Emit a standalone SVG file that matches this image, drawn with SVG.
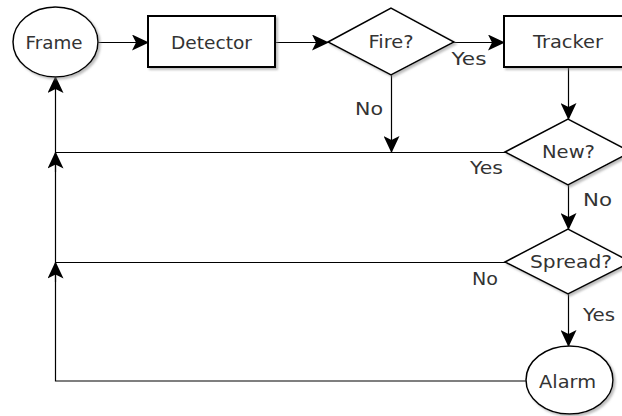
<svg xmlns="http://www.w3.org/2000/svg" width="622" height="416" viewBox="0 0 622 416">
  <style>
    .shape { fill: #ffffff; stroke: #000000; stroke-width: 1.5; filter: url(#shadow); }
    .box { stroke-width: 2; }
    .label { font-family: "DejaVu Sans", "Liberation Sans", sans-serif; font-size: 18px; fill: #333333; text-anchor: middle; }
    .edge { fill: none; stroke: #000000; stroke-width: 1.2; }
    .arrow { marker-end: url(#head); }
  </style>
  <defs>
    <filter id="shadow" x="-20%" y="-20%" width="140%" height="140%">
      <feDropShadow dx="2" dy="2" stdDeviation="0.8" flood-color="#888888" flood-opacity="0.55"/>
    </filter>
    <marker id="head" viewBox="0 0 17 16" refX="16" refY="8" markerWidth="17" markerHeight="16" markerUnits="userSpaceOnUse" orient="auto">
      <path d="M0,0 L17,8 L0,16 L4,8 Z" fill="#000000"/>
    </marker>
  </defs>

  <!-- connectors -->
  <g id="connectors">
    <path class="edge arrow" d="M98,42.5 H148"/>
    <path class="edge arrow" d="M276,42.5 H328"/>
    <path class="edge arrow" d="M454,42.5 H504"/>
    <path class="edge arrow" d="M391.5,75 V152"/>
    <path class="edge arrow" d="M568.5,67 V119"/>
    <path class="edge arrow" d="M568.5,185 V229"/>
    <path class="edge arrow" d="M568.5,294 V346"/>
    <!-- New? yes branch back to the trunk -->
    <path class="edge" d="M505,152.5 H55.5"/>
    <path class="edge arrow" d="M55.5,172 V152.5"/>
    <!-- Spread? no branch back to the trunk -->
    <path class="edge" d="M505,262.5 H55.5"/>
    <path class="edge arrow" d="M55.5,282 V262.5"/>
    <!-- Alarm back to Frame -->
    <path class="edge arrow" d="M526,381 H55.5 V77"/>
    <text class="label" x="469" y="65" textLength="35" lengthAdjust="spacingAndGlyphs">Yes</text>
    <text class="label" x="369" y="115" textLength="28" lengthAdjust="spacingAndGlyphs">No</text>
    <text class="label" x="486.5" y="174" textLength="33" lengthAdjust="spacingAndGlyphs">Yes</text>
    <text class="label" x="597.5" y="206" textLength="29" lengthAdjust="spacingAndGlyphs">No</text>
    <text class="label" x="485" y="285" textLength="26" lengthAdjust="spacingAndGlyphs">No</text>
    <text class="label" x="599" y="321" textLength="32" lengthAdjust="spacingAndGlyphs">Yes</text>
  </g>

  <g id="frame">
    <ellipse class="shape" cx="55.5" cy="42" rx="42.5" ry="35"/>
    <text class="label" x="54" y="49" textLength="57" lengthAdjust="spacingAndGlyphs">Frame</text>
  </g>

  <g id="detector">
    <rect class="shape box" x="148" y="16" width="127" height="51"/>
    <text class="label" x="211.5" y="49" textLength="81" lengthAdjust="spacingAndGlyphs">Detector</text>
  </g>

  <g id="fire">
    <polygon class="shape" points="328,42 391,8 454,42 391,75"/>
    <text class="label" x="391" y="48" textLength="45" lengthAdjust="spacingAndGlyphs">Fire?</text>
  </g>

  <g id="tracker">
    <rect class="shape box" x="504" y="16" width="127" height="51"/>
    <text class="label" x="568" y="48" textLength="70" lengthAdjust="spacingAndGlyphs">Tracker</text>
  </g>

  <g id="new">
    <polygon class="shape" points="505,152 568,119 631,152 568,185"/>
    <text class="label" x="568.5" y="158" textLength="53" lengthAdjust="spacingAndGlyphs">New?</text>
  </g>

  <g id="spread">
    <polygon class="shape" points="505,262 568,229 631,262 568,294"/>
    <text class="label" x="571" y="268" textLength="82" lengthAdjust="spacingAndGlyphs">Spread?</text>
  </g>

  <g id="alarm">
    <ellipse class="shape" cx="569.5" cy="380" rx="43.5" ry="34"/>
    <text class="label" x="567.5" y="388" textLength="57" lengthAdjust="spacingAndGlyphs">Alarm</text>
  </g>
</svg>
